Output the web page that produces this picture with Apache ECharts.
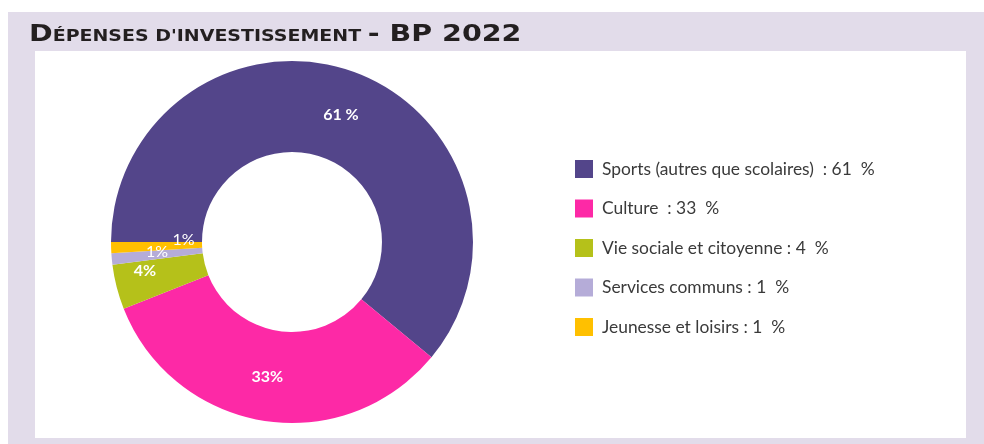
<!DOCTYPE html>
<html>
<head>
<meta charset="utf-8">
<script src="https://cdn.jsdelivr.net/npm/echarts@6/dist/echarts.min.js"></script>
<style>
  html, body { margin: 0; padding: 0; background: #ffffff; }
  #chart { width: 984px; height: 444px; }
</style>
</head>
<body>
<div id="chart"></div>
<script>
// Investment budget split, BP 2022 (percent of total)
const categories = [
  'Sports (autres que scolaires) ',
  'Culture ',
  'Vie sociale et citoyenne',
  'Services communs',
  'Jeunesse et loisirs'
];
const shares = [61, 33, 4, 1, 1];
const sliceLabels = ['61 %', '33%', '4%', '1%', '1%'];
const colors = ['#53458a', '#fd29a6', '#b5c11a', '#b5acd8', '#ffc000'];

// small nudges for the slice labels so the thin ones stay readable
const labelNudge = [[2, 3], [-3, -2], [-13, -6], [3, -3], [30, -7]];

const chart = echarts.init(document.getElementById('chart'), null, { renderer: 'canvas' });

const data = categories.map((name, i) => ({
  name: name,
  value: shares[i],
  itemStyle: { color: colors[i] },
  label: {
    formatter: sliceLabels[i],
    fontWeight: i < 3 ? 'bold' : 'normal'
  }
}));

const titleInk = '#231f20';

chart.setOption({
  animation: false,
  graphic: [
    { type: 'rect', z: -10, shape: { x: 8, y: 12, width: 976, height: 432 }, style: { fill: '#e2dcea' } },
    { type: 'rect', z: -9, shape: { x: 35, y: 51, width: 931, height: 387 }, style: { fill: '#ffffff' } },
    {
      // small-caps heading, drawn slightly extended
      type: 'text', x: 29, y: 21, scaleX: 1.24,
      style: {
        text: '{big|D}{small|ÉPENSES D\'INVESTISSEMENT }{big|- BP 2022}',
        verticalAlign: 'top',
        rich: {
          big: { fontFamily: 'DejaVu Sans', fontWeight: 'bold', fontSize: 23, lineHeight: 26, verticalAlign: 'bottom', fill: titleInk },
          small: { fontFamily: 'DejaVu Sans', fontWeight: 'bold', fontSize: 15.3, lineHeight: 26, verticalAlign: 'bottom', padding: [0, 0, 2, 0], fill: titleInk }
        }
      }
    }
  ],
  legend: {
    orient: 'vertical',
    left: 570,
    top: 155,
    icon: 'rect',
    itemWidth: 18,
    itemHeight: 18,
    itemGap: 21.5,
    selectedMode: false,
    textStyle: { fontFamily: 'Lato', fontSize: 17.4, color: '#3a3a3a', padding: [0, 0, 0, 4] },
    formatter: function (name) {
      const i = categories.indexOf(name);
      return name + ' : ' + shares[i] + '  %';
    },
    data: categories
  },
  series: [{
    type: 'pie',
    center: [292, 242],
    radius: [90, 181],
    startAngle: 180,
    clockwise: true,
    avoidLabelOverlap: false,
    silent: true,
    label: {
      show: true,
      position: 'inside',
      color: '#ffffff',
      fontFamily: 'Lato',
      fontSize: 16
    },
    labelLine: { show: false },
    labelLayout: function (params) {
      const n = labelNudge[params.dataIndex];
      return { dx: n[0], dy: n[1] };
    },
    data: data
  }]
});
</script>
</body>
</html>
